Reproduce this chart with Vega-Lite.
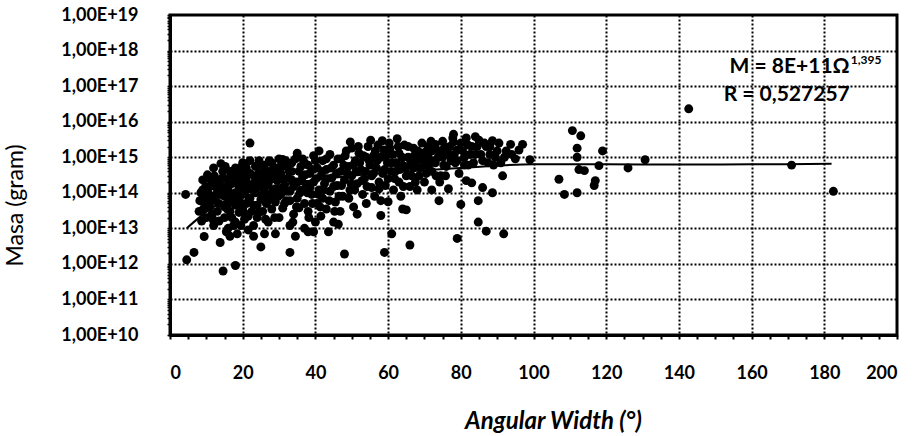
{
  "$schema": "https://vega.github.io/schema/vega-lite/v6.json",
  "width": 727,
  "height": 320,
  "autosize": {"type": "none"},
  "padding": {"left": 170, "top": 15, "right": 24, "bottom": 101},
  "background": "white",
  "config": {
    "view": {"stroke": "black", "strokeWidth": 3},
    "axis": {
      "domainColor": "black",
      "domainWidth": 3,
      "tickColor": "black",
      "tickWidth": 2,
      "tickSize": 4,
      "labelColor": "black",
      "labelFont": "Lato",
      "labelFontWeight": "bold",
      "labelFontSize": 18,
      "labelOverlap": false,
      "labelBound": false,
      "gridColor": "black",
      "gridDash": [2, 2],
      "gridWidth": 2,
      "titleColor": "black"
    }
  },
  "datasets": {
    "pts": [
      {"w":4.3,"m":9e13},{"w":4.6,"m":1.3e12},{"w":6.6,"m":2.1e12},{"w":9.4,"m":5.9e12},
      {"w":8,"m":3e13},{"w":8.5,"m":1e14},{"w":9,"m":2.3e14},{"w":9,"m":1.2e14},{"w":9.5,"m":5e13},{"w":10,"m":2e13},{"w":10,"m":7e13},{"w":8.7,"m":1.6e13},{"w":10.3,"m":3.2e14},
      {"w":11,"m":4e13},{"w":11,"m":1.5e14},{"w":11.5,"m":8e13},{"w":11.5,"m":2.5e13},{"w":12,"m":1.2e13},{"w":12,"m":5e14},{"w":12.5,"m":2e14},{"w":12.5,"m":6e13},{"w":13,"m":3e13},{"w":13,"m":1e14},{"w":13.2,"m":2.2e14},{"w":13.5,"m":1.6e13},
      {"w":13.8,"m":4e12},{"w":14,"m":6.6e14},{"w":14.6,"m":6.3e11},{"w":14.5,"m":4e14},{"w":14.5,"m":1.5e14},{"w":15,"m":8e13},{"w":15,"m":4e13},{"w":15,"m":2e13},{"w":15.5,"m":8e12},{"w":15.5,"m":2.5e14},{"w":16,"m":1.2e14},{"w":16,"m":5e13},{"w":16,"m":1e13},{"w":16.5,"m":3e13},{"w":16.5,"m":6e12},{"w":16.5,"m":4e14},{"w":17,"m":1.8e14},{"w":17,"m":7e13},{"w":17,"m":2e13},
      {"w":18,"m":9e11},{"w":18,"m":5e14},{"w":18,"m":2.5e14},{"w":18,"m":1e14},{"w":18,"m":4.5e13},{"w":18,"m":1.5e13},{"w":18.5,"m":7e12},{"w":19,"m":3e14},{"w":19,"m":1.4e14},{"w":19,"m":6e13},{"w":19,"m":2.8e13},{"w":19.5,"m":1.2e13},{"w":20,"m":7e14},{"w":20,"m":4e14},{"w":20,"m":2e14},{"w":20,"m":9e13},{"w":20,"m":3.5e13},{"w":20.5,"m":1.8e13},{"w":21,"m":5e14},{"w":21,"m":2.6e14},{"w":21,"m":1.2e14},{"w":21,"m":5e13},{"w":21.5,"m":2.2e13},{"w":21.5,"m":9e12},{"w":22,"m":2.5e15},{"w":22,"m":8e14},{"w":22,"m":3.5e14},{"w":22,"m":1.6e14},{"w":22,"m":7e13},{"w":22.5,"m":3e13},
      {"w":23,"m":6e12},{"w":23,"m":1.2e13},{"w":23.5,"m":5.5e14},{"w":23.5,"m":2.2e14},{"w":23.5,"m":1e14},{"w":24,"m":4.5e13},{"w":24,"m":2e13},{"w":24.5,"m":8e14},{"w":24.5,"m":3.5e14},{"w":25,"m":1.5e14},{"w":25,"m":6.5e13},{"w":25,"m":3e12},{"w":25.5,"m":3e13},{"w":26,"m":6e14},{"w":26,"m":2.6e14},{"w":26,"m":1.1e14},{"w":26,"m":7e12},{"w":26.5,"m":5e13},{"w":27,"m":4e14},{"w":27,"m":1.7e14},{"w":27,"m":1.5e13},{"w":27.5,"m":8e13},{"w":28,"m":7e14},{"w":28,"m":3e14},{"w":28,"m":3.5e13},
      {"w":29,"m":7e12},{"w":29,"m":1.3e14},{"w":29,"m":5.5e13},{"w":29.5,"m":5e14},{"w":29.5,"m":2.2e14},{"w":30,"m":9e14},{"w":30,"m":2e13},{"w":30.5,"m":3.5e14},{"w":30.5,"m":9e13},{"w":31,"m":8.7e14},{"w":31,"m":3.7e13},{"w":31.5,"m":1.6e14},{"w":32,"m":5.5e14},{"w":32,"m":6e13},{"w":32.5,"m":2.6e14},{"w":33,"m":2.1e12},{"w":33,"m":1.1e14},{"w":33,"m":1.2e13},{"w":33.5,"m":7e14},{"w":33.5,"m":4e14},
      {"w":34.5,"m":6e12},{"w":34,"m":2.5e13},{"w":35,"m":1.3e15},{"w":35,"m":2e14},{"w":35,"m":7e13},{"w":35.5,"m":3.8e13},{"w":36,"m":5.5e14},{"w":36,"m":1.2e14},{"w":36.5,"m":9e14},{"w":36.5,"m":2.9e14},{"w":37,"m":1e13},{"w":37,"m":5e13},{"w":37.5,"m":1.7e14},{"w":38,"m":8e12},{"w":38,"m":6e14},{"w":38,"m":3e13},{"w":38.5,"m":3.5e14},{"w":39,"m":9e13},{"w":39.5,"m":8e12},{"w":39.5,"m":1.1e15},{"w":39.5,"m":2e14},{"w":40,"m":1.5e13},
      {"w":40.5,"m":5e14},{"w":40.5,"m":5e13},{"w":41,"m":1.2e14},{"w":41.5,"m":3e14},{"w":41.5,"m":2.2e13},{"w":42,"m":8e14},{"w":42,"m":7e13},{"w":42.5,"m":1.8e14},{"w":43,"m":4.5e14},{"w":43,"m":3.5e13},{"w":43.6,"m":8e12},{"w":44,"m":1.2e15},{"w":44,"m":1.1e14},{"w":44.5,"m":2.6e14},{"w":45,"m":6e14},{"w":45,"m":1.5e13},{"w":45.5,"m":5.5e13},{"w":46,"m":1.6e14},
      {"w":46.3,"m":1.3e13},{"w":46.8,"m":3e13},{"w":47,"m":4e14},{"w":47,"m":9e14},{"w":47.5,"m":8e13},{"w":48,"m":1.9e12},{"w":48,"m":2.3e14},{"w":48.5,"m":1.5e15},{"w":49,"m":5.5e14},{"w":49.5,"m":1.2e14},{"w":49.6,"m":2.7e15},{"w":50,"m":3e14},{"w":50.5,"m":4e13},{"w":51,"m":8e14},{"w":51.5,"m":2.5e13},{"w":51.5,"m":1.8e14},{"w":52,"m":1.3e15},
      {"w":52.5,"m":4.5e14},{"w":53,"m":9e13},{"w":53.5,"m":2.5e14},{"w":54,"m":1e15},{"w":54,"m":5e13},{"w":54.5,"m":2e15},{"w":55,"m":6e14},{"w":55.5,"m":1.4e14},{"w":56,"m":3.5e14},{"w":56.5,"m":1.5e15},{"w":57,"m":8e14},{"w":57.5,"m":2e14},{"w":58,"m":2.3e13},{"w":58,"m":6e13},
      {"w":58.4,"m":2.9e15},{"w":59,"m":2.1e12},{"w":59,"m":4.5e14},{"w":59.5,"m":1.1e15},{"w":60,"m":5.6e13},{"w":60,"m":2.5e14},{"w":60.5,"m":1.8e15},{"w":61,"m":7e12},{"w":61,"m":7e14},{"w":61.5,"m":1.2e14},{"w":62,"m":4e14},{"w":62.5,"m":3.3e15},{"w":63,"m":1.3e15},{"w":63,"m":2e14},{"w":63.5,"m":8e13},{"w":64,"m":3.5e13},{"w":64,"m":6e14},{"w":64.5,"m":2.2e15},{"w":65,"m":3.3e13},{"w":65,"m":3e14},{"w":65.5,"m":1e15},{"w":66,"m":3.4e12},{"w":66,"m":1.5e14},
      {"w":67,"m":5e14},{"w":67,"m":1.8e15},{"w":68,"m":1.2e14},{"w":68,"m":8e14},{"w":68.5,"m":3e14},{"w":69,"m":1.3e15},{"w":70,"m":6e14},{"w":70,"m":2e14},{"w":71,"m":2e15},{"w":71,"m":1e15},{"w":72,"m":1.2e14},{"w":72,"m":4e14},{"w":73,"m":2.3e15},{"w":73,"m":7e14},{"w":74,"m":6e13},{"w":74,"m":1.5e15},{"w":74.5,"m":3e14},{"w":75,"m":1e15},{"w":75.5,"m":1.9e15},{"w":76,"m":5.5e14},{"w":76.6,"m":1.3e14},{"w":77,"m":1.1e15},{"w":78,"m":4.4e15},{"w":78,"m":2.7e15},{"w":78.5,"m":7e14},{"w":79,"m":5.2e12},{"w":79,"m":1.6e15},{"w":79.5,"m":3.5e14},
      {"w":80,"m":4.7e13},{"w":80,"m":2.5e15},{"w":81,"m":1e15},{"w":81.5,"m":3.5e15},{"w":82,"m":6e14},{"w":83,"m":1.9e14},{"w":83,"m":2e15},{"w":84,"m":1.2e15},{"w":84.8,"m":6e13},{"w":84.8,"m":1.5e13},{"w":85,"m":3e15},{"w":86,"m":1.4e14},{"w":86,"m":8e14},{"w":87,"m":8.3e12},{"w":87,"m":2e15},{"w":88,"m":1.2e15},{"w":88.7,"m":2.9e15},{"w":88.7,"m":1e14},{"w":89,"m":6e14},{"w":90,"m":1.5e15},{"w":91.5,"m":3e14},{"w":91.8,"m":7e12},{"w":92,"m":1e15},{"w":93.7,"m":2.3e15},{"w":95,"m":9e14},{"w":97,"m":2.3e15},{"w":99,"m":8.5e14},
      {"w":107,"m":2.4e14},{"w":108.5,"m":9e13},{"w":110.7,"m":5.6e15},{"w":113,"m":4e15},{"w":112,"m":1.8e15},{"w":112,"m":1e15},{"w":112.5,"m":4.5e14},{"w":112,"m":1e14},{"w":114,"m":4.2e14},{"w":116.7,"m":1.6e14},{"w":117,"m":2.2e14},{"w":118,"m":5.8e14},{"w":119,"m":1.5e15},{"w":126,"m":5e14},{"w":130.7,"m":8.5e14},{"w":142.7,"m":2.3e16},{"w":171,"m":6e14},{"w":182.5,"m":1.1e14},
      {"w":8.2,"m":6e13},{"w":9.2,"m":3.5e13},{"w":9.8,"m":1.5e14},{"w":10.5,"m":1e14},{"w":10.8,"m":2.5e14},{"w":11.2,"m":6e13},{"w":11.8,"m":1.8e13},{"w":12.2,"m":3e14},{"w":12.8,"m":1.4e14},{"w":13.4,"m":5e13},{"w":13.8,"m":9e13},{"w":14.2,"m":2.5e14},{"w":14.8,"m":1.1e14},{"w":15.2,"m":5.5e14},{"w":15.8,"m":3.5e13},{"w":16.2,"m":1.8e14},{"w":16.8,"m":9e13},{"w":17.2,"m":3e14},{"w":17.5,"m":1.2e13},{"w":17.8,"m":5.5e13},{"w":18.5,"m":3.5e14},{"w":18.8,"m":1.8e14},{"w":19.2,"m":8e13},{"w":19.5,"m":4e13},{"w":19.8,"m":5.5e14},{"w":20.3,"m":1.3e14},{"w":20.8,"m":2.5e13},{"w":21.2,"m":3.5e14},{"w":21.8,"m":7e13},{"w":21.8,"m":1.7e14},
      {"w":22.8,"m":1.2e14},{"w":23,"m":4.5e13},{"w":23.2,"m":3e14},{"w":23.8,"m":1.5e14},{"w":24.2,"m":6e14},{"w":24.5,"m":2.8e13},{"w":25,"m":2.4e14},{"w":25.5,"m":9e13},{"w":25.8,"m":4e14},{"w":26.3,"m":1.8e13},{"w":26.5,"m":1.6e14},{"w":27,"m":6e13},{"w":27.3,"m":8e14},{"w":27.8,"m":2.4e14},{"w":28.2,"m":1.1e14},{"w":28.5,"m":5e14},{"w":28.8,"m":2e13},{"w":29.2,"m":3e14},{"w":29.8,"m":8e13},{"w":30.2,"m":1.3e14},{"w":30.5,"m":5.5e14},{"w":31,"m":2.4e14},{"w":31.5,"m":5e13},{"w":31.8,"m":8e14},{"w":32.2,"m":1.1e14},{"w":32.8,"m":4e14},{"w":33,"m":6e13},{"w":33.5,"m":2.3e14},{"w":34,"m":1.5e14},{"w":34.5,"m":9e14},{"w":34.8,"m":4e13},{"w":33.8,"m":1.5e13},
      {"w":35.5,"m":4e14},{"w":35.8,"m":1e14},{"w":36.2,"m":2.2e14},{"w":37,"m":7e14},{"w":37.2,"m":3.2e14},{"w":37.8,"m":1e14},{"w":38.2,"m":2e13},{"w":38.5,"m":1.4e14},{"w":39,"m":4.5e14},{"w":39.2,"m":5e13},{"w":40,"m":8e14},{"w":40.2,"m":2.5e14},{"w":40.8,"m":9e13},{"w":41,"m":1.5e15},{"w":41.3,"m":4e13},{"w":42,"m":4e14},{"w":42.3,"m":1.2e14},{"w":43,"m":9e14},{"w":43.3,"m":2.5e14},{"w":43.8,"m":6e13},{"w":44.3,"m":5e14},{"w":45,"m":1.5e14},{"w":45.3,"m":3e13},{"w":45.8,"m":3.5e14},{"w":46.2,"m":9e14},{"w":46.5,"m":8e13},{"w":47.2,"m":1.6e14},{"w":47.8,"m":6e14},{"w":48.2,"m":1.1e15},{"w":48.8,"m":3.5e14},{"w":49.2,"m":7e13},{"w":49.8,"m":1.8e14},{"w":50,"m":1.8e15},{"w":50.3,"m":6e14},
      {"w":50.8,"m":1.2e14},{"w":51.2,"m":4e14},{"w":51.8,"m":2e15},{"w":52.2,"m":7e14},{"w":52.8,"m":2.2e14},{"w":53.2,"m":1.1e15},{"w":53.8,"m":4e14},{"w":54.2,"m":1.5e14},{"w":54.8,"m":8e14},{"w":55.2,"m":3e15},{"w":55.5,"m":3e14},{"w":56,"m":1.1e15},{"w":56.3,"m":8e13},{"w":56.8,"m":5e14},{"w":57.2,"m":2.2e15},{"w":57.5,"m":1.3e14},{"w":58,"m":1e15},{"w":58.5,"m":3.5e14},{"w":58.8,"m":1.6e15},{"w":59.2,"m":1.6e14},{"w":59.8,"m":7e14},{"w":60.3,"m":2.5e15},{"w":60.8,"m":4e14},{"w":61.2,"m":1.2e15},{"w":61.8,"m":2.5e14},{"w":62.2,"m":7e14},{"w":62.8,"m":2e15},{"w":63.2,"m":4.5e14},{"w":63.8,"m":1e15},{"w":64.2,"m":1.5e14},{"w":64.8,"m":5e14},
      {"w":65.5,"m":2e15},{"w":66.2,"m":7e14},{"w":66.5,"m":3e14},{"w":67.2,"m":1.1e15},{"w":67.5,"m":2e14},{"w":68.2,"m":1.5e15},{"w":68.8,"m":5e14},{"w":69.3,"m":2.5e15},{"w":69.5,"m":9e14},{"w":70.3,"m":1.4e15},{"w":70.5,"m":3.5e14},{"w":71.2,"m":6e14},{"w":71.8,"m":2.8e15},{"w":72.2,"m":1.5e15},{"w":72.5,"m":8e14},{"w":73.2,"m":3e14},{"w":73.8,"m":1e15},{"w":74.2,"m":2e14},{"w":75,"m":2.8e15},{"w":75.3,"m":6e14},{"w":75.8,"m":3e14},{"w":76.3,"m":1.4e15},{"w":77,"m":2e15},{"w":77.3,"m":8e14},{"w":77.8,"m":3.5e15},{"w":78.2,"m":1.2e15},{"w":79,"m":8e14},
      {"w":80.5,"m":1.5e15},{"w":81,"m":6e14},{"w":81.5,"m":2.2e14},{"w":82,"m":2.2e15},{"w":82.5,"m":1.2e15},{"w":83.5,"m":7e14},{"w":84,"m":3.8e15},{"w":84.5,"m":2e15},{"w":85.5,"m":1.2e15},{"w":86.5,"m":2.5e15},{"w":87.5,"m":7e14},{"w":88,"m":2e15},{"w":89.5,"m":1e15},{"w":90.5,"m":2.5e15},{"w":91,"m":7e14},{"w":92.5,"m":1.5e15},{"w":94,"m":1.2e15},{"w":96,"m":1.6e15}
    ],
    "fit": [
      {"w":4.6,"m":1e13},{"w":8,"m":2e13},{"w":12,"m":4e13},{"w":20,"m":9e13},{"w":30,"m":1.6e14},{"w":40,"m":2.3e14},{"w":50,"m":3e14},{"w":60,"m":3.7e14},{"w":70,"m":4.3e14},{"w":80,"m":5e14},{"w":90,"m":5.8e14},{"w":100,"m":6.3e14},{"w":120,"m":6.3e14},{"w":140,"m":6.2e14},{"w":160,"m":6.3e14},{"w":182,"m":6.5e14}
    ],
    "eq": [
      {"w":187,"m":3.5e17,"t":"M = 8E+11Ω"},
      {"w":187,"m":5.6e16,"t":"R = 0,527257"}
    ],
    "sup": [
      {"w":187.3,"m":5.3e17,"t":"1,395"}
    ]
  },
  "encoding": {
    "x": {
      "field": "w",
      "type": "quantitative",
      "scale": {"domain": [0, 200], "nice": false, "zero": false},
      "axis": {
        "title": "Angular Width (°)",
        "titleFont": "Lato",
        "titleFontSize": 24,
        "titleFontWeight": "bold",
        "titleFontStyle": "italic",
        "titleX": 383,
        "titleY": 93,
        "titleBaseline": "alphabetic",
        "values": [0,5,10,15,20,25,30,35,40,45,50,55,60,65,70,75,80,85,90,95,100,105,110,115,120,125,130,135,140,145,150,155,160,165,170,175,180,185,190,195,200],
        "labelExpr": "datum.value % 20 === 0 ? datum.label : ''",
        "labelPadding": 25,
        "gridOpacity": {"condition": {"test": "datum.value % 20 === 0 && datum.value > 0 && datum.value < 200", "value": 1}, "value": 0}
      }
    },
    "y": {
      "field": "m",
      "type": "quantitative",
      "scale": {"type": "log", "domain": [1e10, 1e19], "nice": false},
      "axis": {
        "title": "Masa (gram)",
        "titleFont": "Lato",
        "titleFontSize": 23,
        "titleFontWeight": "normal",
        "titleX": -155,
        "titleY": 190,
        "titleAngle": -90,
        "titleAlign": "center",
        "titleBaseline": "middle",
        "values": [1e10,2e10,3e10,4e10,5e10,6e10,7e10,8e10,9e10,1e11,2e11,3e11,4e11,5e11,6e11,7e11,8e11,9e11,1e12,2e12,3e12,4e12,5e12,6e12,7e12,8e12,9e12,1e13,2e13,3e13,4e13,5e13,6e13,7e13,8e13,9e13,1e14,2e14,3e14,4e14,5e14,6e14,7e14,8e14,9e14,1e15,2e15,3e15,4e15,5e15,6e15,7e15,8e15,9e15,1e16,2e16,3e16,4e16,5e16,6e16,7e16,8e16,9e16,1e17,2e17,3e17,4e17,5e17,6e17,7e17,8e17,9e17,1e18,2e18,3e18,4e18,5e18,6e18,7e18,8e18,9e18,1e19],
        "labelExpr": "abs(log(datum.value)/LN10 - round(log(datum.value)/LN10)) < 0.001 ? '1,00E+' + round(log(datum.value)/LN10) : ''",
        "labelPadding": 29,
        "tickSize": 3,
        "tickWidth": 1.5,
        "gridOpacity": {"condition": {"test": "abs(log(datum.value)/LN10 - round(log(datum.value)/LN10)) < 0.001 && datum.value > 1.5e10 && datum.value < 5e18", "value": 1}, "value": 0}
      }
    }
  },
  "layer": [
    {"data": {"name": "pts"}, "mark": {"type": "circle", "size": 80, "color": "black", "opacity": 1}},
    {"data": {"name": "fit"}, "mark": {"type": "line", "color": "black", "strokeWidth": 2, "interpolate": "monotone"}},
    {"data": {"name": "eq"}, "mark": {"type": "text", "align": "right", "baseline": "middle", "font": "Lato", "fontWeight": "bold", "fontSize": 21, "color": "black"}, "encoding": {"text": {"field": "t"}}},
    {"data": {"name": "sup"}, "mark": {"type": "text", "align": "left", "baseline": "middle", "font": "Lato", "fontWeight": "bold", "fontSize": 12, "color": "black"}, "encoding": {"text": {"field": "t"}}}
  ]
}
